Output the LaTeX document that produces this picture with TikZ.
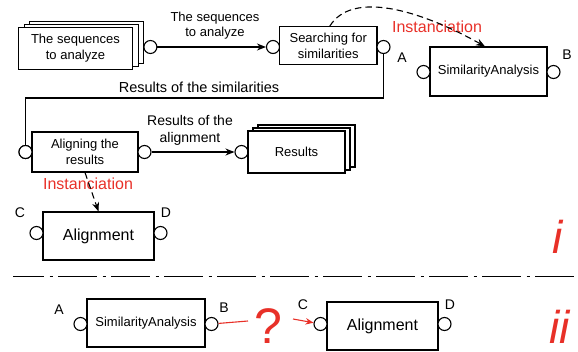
\documentclass[tikz,border=0pt]{standalone}
\usepackage{fontspec}
\setmainfont{Liberation Sans}
\usetikzlibrary{arrows.meta}
\definecolor{myred}{RGB}{232,48,40}
\newcommand\myfs[2]{\fontsize{#1}{#2}\selectfont}
\begin{document}
\begin{tikzpicture}[x=1pt,y=-1pt,
  box/.style={draw, line width=1.1pt, fill=white, align=center, inner sep=0pt, font=\myfs{13}{16}},
  port/.style={circle, draw, line width=1.1pt, fill=white, minimum size=13pt, inner sep=0pt},
  conn/.style={line width=1.1pt},
  arr/.style={conn, -{Stealth[length=9pt,width=7pt]}},
  dasharr/.style={conn, dash pattern=on 6.5pt off 4pt, -{Stealth[length=9pt,width=7pt]}},
  lbl/.style={align=center, inner sep=0pt, font=\myfs{13}{15}},
  letter/.style={inner sep=0pt, font=\myfs{14}{16}},
  inst/.style={inner sep=0pt, text=myred, font=\myfs{16}{18}},
  roman/.style={inner sep=0pt, text=myred, font=\myfs{46}{50}\itshape},
]
\useasboundingbox (0,0) rectangle (578,351);

% ---------- part i ----------
% stacked input
\node[box, minimum width=114pt, minimum height=42pt] (seq3) at (86.9,42.5) {};
\node[box, minimum width=114pt, minimum height=42pt] (seq2) at (81.2,45.4) {};
\node[box, minimum width=114pt, minimum height=42pt] (seq) at (75.5,48.3) {The sequences\\to analyze};
\node[port] (p1) at (150.4,47) {};
\node[port] (p2) at (273,47) {};
\draw[arr] (p1) -- (p2);
\node[lbl] (lseq) at (215,26) {The sequences\\to analyze};

% searching
\node[box, minimum width=97.5pt, minimum height=37.5pt] (search) at (328.25,45.5) {Searching for\\similarities};
\node[port] (p3) at (383.5,47) {};

% similarity analysis (top)
\node[box, minimum width=117pt, minimum height=49pt] (sim) at (488.5,71.5) {SimilarityAnalysis};
\node[port] (pA) at (423.5,72) {};
\node[port] (pB) at (553.5,72) {};
\node[letter] (lA) at (402,58) {A};
\node[letter] (lB) at (567,55) {B};

\node[inst] (inst1) at (437,27) {Instanciation};
\draw[dasharr] ([xshift=1.5pt]search.north) .. controls (352,-10) and (420,10) .. ([xshift=-3.5pt]sim.north);

% results of similarities line
\coordinate (c1) at (383.5,98);
\coordinate (c2) at (25.5,98);
\node[port] (p4) at (25.5,152) {};
\draw[conn] (p3) -- (c1) -- (c2) -- (p4);
\node[lbl, font=\myfs{14.5}{17}] (lsim) at (199,87) {Results of the similarities};

% aligning
\node[box, minimum width=106pt, minimum height=40pt] (align) at (85,152) {Aligning the\\results};
\node[port] (p4b) at (25.5,152) {};
\node[port] (p5) at (144.5,152) {};
\node[port] (p6) at (241.5,152) {};
\draw[arr] (p5) -- (p6);
\node[lbl, font=\myfs{14}{17}] (lali) at (190,130) {Results of the\\alignment};

% results stack
\node[box, minimum width=97pt, minimum height=42pt] (res3) at (306.5,146) {};
\node[box, minimum width=97pt, minimum height=42pt] (res2) at (301.5,149) {};
\node[box, minimum width=97pt, minimum height=42pt] (res) at (296.5,152) {Results};

% alignment (top)
\node[box, minimum width=111pt, minimum height=48pt, font=\myfs{16}{18}] (alg) at (98.5,236) {Alignment};
\node[port] (pC) at (36.5,233) {};
\node[port] (pD) at (160.5,233) {};
\node[letter] (lC) at (20,213) {C};
\node[letter] (lD) at (166,213) {D};
\node[inst] (inst2) at (88,184) {Instanciation};
\draw[dasharr] (align.south) -- (alg.north);

\node[roman] (ri) at (558,237) {i};

% separator
\coordinate (s1) at (13,276.5);
\coordinate (s2) at (578,276.5);
\draw[line width=1.1pt, dash pattern=on 39pt off 5.5pt on 3pt off 5.5pt, dash phase=7.8pt] (s1) -- (s2);

% ---------- part ii ----------
\node[box, minimum width=118pt, minimum height=48pt] (sim2) at (146,323) {SimilarityAnalysis};
\node[port] (pA2) at (80.5,324) {};
\node[port] (pB2) at (211.5,324) {};
\node[letter] (lA2) at (59,310) {A};
\node[letter] (lB2) at (224,308) {B};

\node[box, minimum width=111pt, minimum height=48pt, font=\myfs{16}{18}] (alg2) at (382.5,326) {Alignment};
\node[port] (pC2) at (320.5,324) {};
\node[port] (pD2) at (444.5,324) {};
\node[letter] (lC2) at (303,305) {C};
\node[letter] (lD2) at (450,305) {D};

\coordinate (q1) at (248,321);
\coordinate (q2) at (293,319);
\draw[conn, myred] (pB2) -- (q1);
\draw[conn, myred, -{Stealth[length=8pt,width=6.5pt]}] (q2) -- (pC2);
\node[inner sep=0pt, text=myred, font=\myfs{50}{54}] (qm) at (268,326) {?};

\node[roman] (rii) at (560,327) {ii};
\end{tikzpicture}
\end{document}
